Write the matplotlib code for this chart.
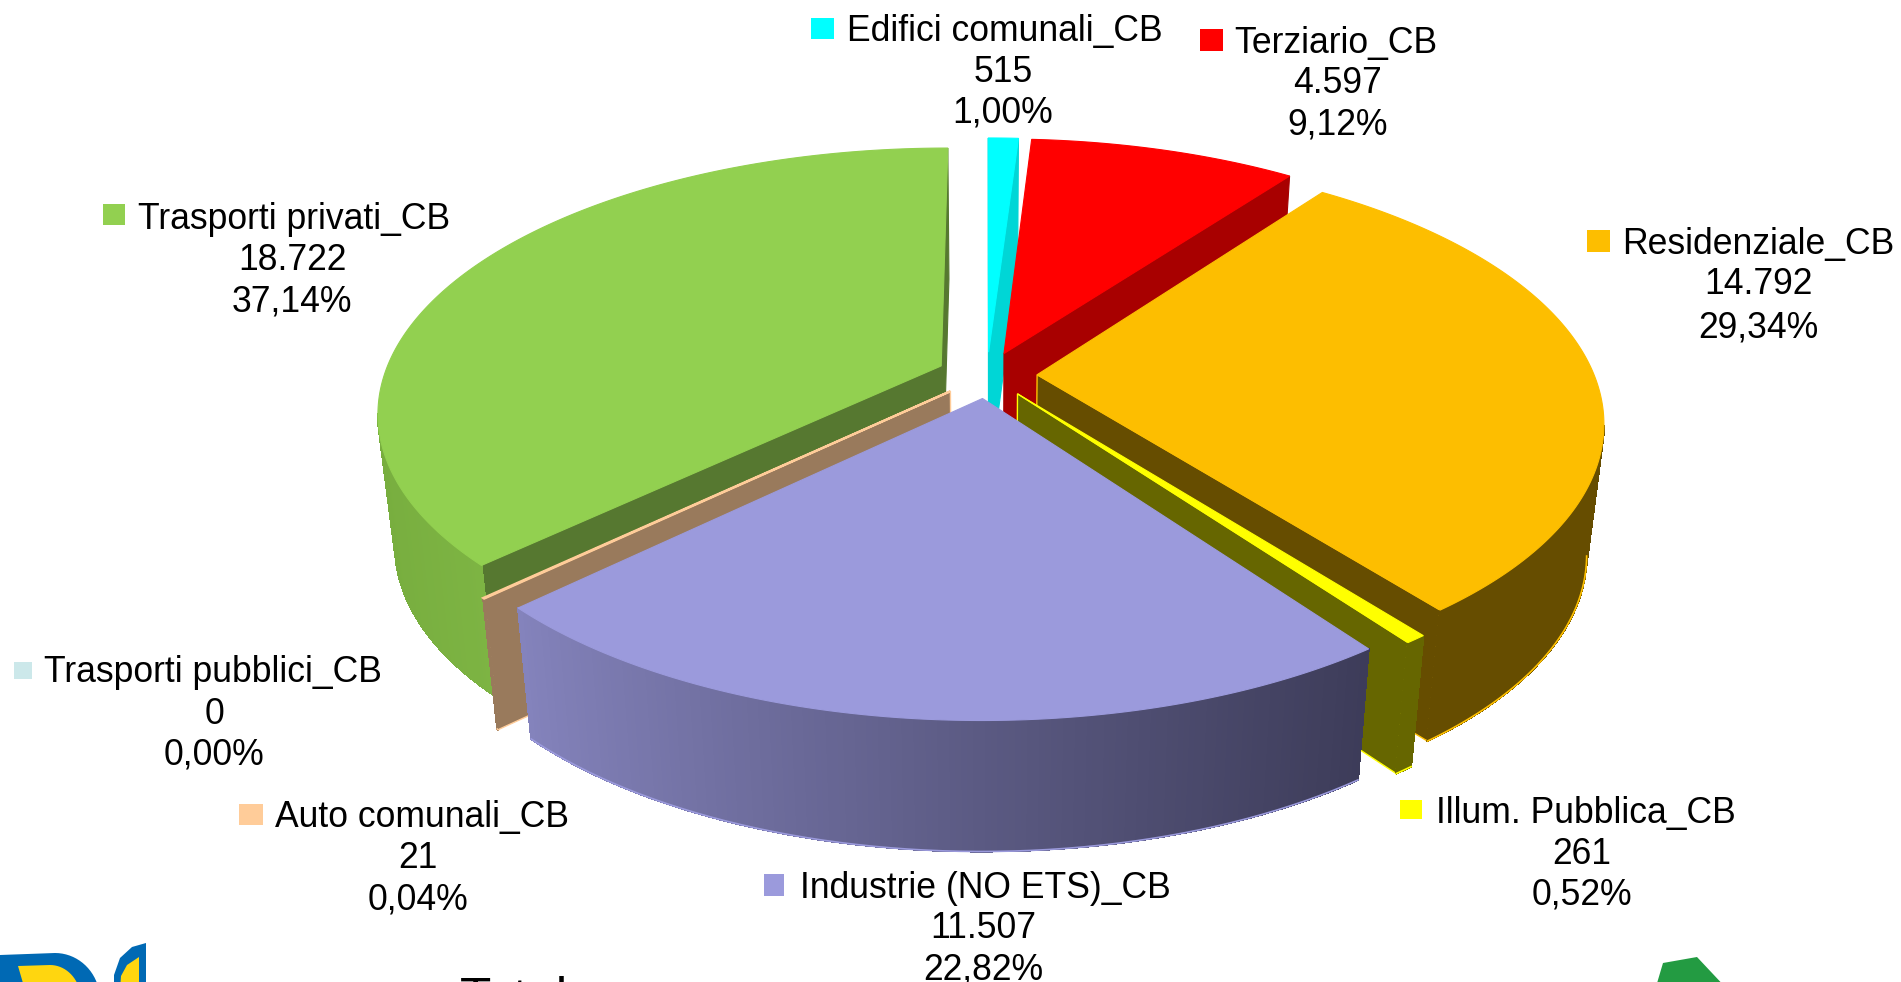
import numpy as np
import matplotlib
matplotlib.use("Agg")
import matplotlib.pyplot as plt
from matplotlib.patches import Polygon, Rectangle
from matplotlib.colors import to_rgb

plt.rcParams['font.family'] = ['Liberation Sans', 'DejaVu Sans']

# ---------- data ----------
names = ["Edifici comunali_CB", "Terziario_CB", "Residenziale_CB", "Illum. Pubblica_CB",
         "Industrie (NO ETS)_CB", "Trasporti pubblici_CB", "Auto comunali_CB", "Trasporti privati_CB"]
values = [515, 4597, 14792, 261, 11507, 0, 21, 18722]
value_labels = ["515", "4.597", "14.792", "261", "11.507", "0", "21", "18.722"]
pct_labels = ["1,00%", "9,12%", "29,34%", "0,52%", "22,82%", "0,00%", "0,04%", "37,14%"]

# ---------- styles ----------
top_colors = ["#00FFFF", "#FF0000", "#FDBE00", "#FFFF00", "#9B9ADC", "#CCE8EA", "#FFCC99", "#92D050"]
face_colors = ["#00D6D6", "#A80000", "#664D00", "#666600", "#3D3C59", "#CCE8EA", "#997A5C", "#567830"]
arc_left = ["#00D6D6", "#A80000", "#664D00", "#666600", "#8483BC", "#CCE8EA", "#997A5C", "#78AE3F"]
arc_right = ["#00D6D6", "#A80000", "#664D00", "#666600", "#3D3C59", "#CCE8EA", "#997A5C", "#7DB443"]
edge_colors = [None, None, "#FFC000", "#FFFF00", "#9B9ADC", None, "#FFCC99", None]
draw_order = [7, 0, 1, 2, 3, 6, 4]

# marker box (x0, x1, y0, y1), label left x, label centre y, value centre x, value y, pct y
layout = [
    (811, 834, 18, 39, 847, 28, 1003, 69, 110),
    (1200, 1223, 29, 51, 1234, 40, 1338, 80, 122),
    (1587, 1610, 230, 252, 1622, 241, 1758, 282, 325),
    (1400, 1422, 800, 819, 1436, 810, 1582, 851, 892),
    (764, 784, 874, 896, 800, 886, 983, 926, 967),
    (14, 32, 662, 679, 44, 670, 214, 712, 752),
    (239, 263, 804, 825, 275, 815, 418, 856, 897),
    (103, 125, 204, 225, 138, 216, 292, 257, 299),
]

# projection of the tilted disc into the picture
CX, CY, A, B, K, EXPLODE, DEPTH, SHRINK = 987, 375, 557, 258, 0.171, 0.09, 131, 0.972


def project(x, y):
    w = 1 / (1 + K * y)
    return CX + A * x * w, CY - B * y * w


def lower(p):
    return CX + (p[0] - CX) * SHRINK, p[1] + DEPTH


fig = plt.figure(figsize=(19.01, 9.82), dpi=100)
ax = fig.add_axes([0, 0, 1, 1])
ax.set_xlim(0, 1901)
ax.set_ylim(982, 0)
ax.axis("off")


def wall(a, b, color, edge=None, z=2, aa=True):
    pts = [a, b, lower(b), lower(a)]
    ax.add_patch(Polygon(pts, closed=True, facecolor=color, edgecolor=edge or color,
                         lw=1.0 if edge else 0.8, zorder=z, antialiased=aa))


total = sum(values)
cum = np.cumsum([0] + values) / total * 2 * np.pi
z = 2.0
for i in draw_order:
    t1, t2 = cum[i], cum[i + 1]
    mid = (t1 + t2) / 2
    ox, oy = EXPLODE * np.sin(mid), EXPLODE * np.cos(mid)
    ts = np.linspace(t1, t2, max(3, int(np.degrees(t2 - t1) * 2)))
    arc = [project(ox + np.sin(t), oy + np.cos(t)) for t in ts]
    apex = project(ox, oy)
    edge = edge_colors[i]
    # start radial wall (apex -> outer)
    if arc[0][0] < apex[0]:
        wall(apex, arc[0], face_colors[i], edge, z); z += .01
    # end radial wall (outer -> apex)
    if apex[0] < arc[-1][0]:
        wall(arc[-1], apex, face_colors[i], edge, z); z += .01
    # rounded outer wall, shaded across its width
    front = [(arc[j], arc[j + 1]) for j in range(len(arc) - 1) if arc[j + 1][0] < arc[j][0]]
    if front:
        xs = [s[0][0] for s in front] + [front[-1][1][0]]
        lo, hi = min(xs), max(xs)
        cl, cr = np.array(to_rgb(arc_left[i])), np.array(to_rgb(arc_right[i]))
        for a, b in front:
            f = ((a[0] + b[0]) / 2 - lo) / max(hi - lo, 1)
            wall(a, b, tuple(cl + (cr - cl) * f ** 0.9), None, z, aa=False)
        if edge:
            low = [lower(s[0]) for s in front] + [lower(front[-1][1])]
            ax.plot(*zip(*low), color=edge, lw=1.2, zorder=z + .001)
        z += .01
    # top surface
    ax.add_patch(Polygon([apex] + arc, closed=True, facecolor=top_colors[i],
                         edgecolor=top_colors[i], lw=0.8 if i != 6 else 1.6, zorder=z))
    z += .01

# ---------- labels ----------
FS = 25.6
for i, (m0, m1, y0, y1, lx, ly, vx, vy, py) in enumerate(layout):
    ax.add_patch(Rectangle((m0, y0), m1 - m0, y1 - y0, facecolor=top_colors[i], edgecolor="none", zorder=20))
    ax.text(lx, ly + 12.5, names[i], fontsize=FS, color="black", ha="left", va="baseline", zorder=21)
    ax.text(vx, vy + 12.5, value_labels[i], fontsize=FS, color="black", ha="center", va="baseline", zorder=21)
    ax.text(vx, py + 12.5, pct_labels[i], fontsize=FS, color="black", ha="center", va="baseline", zorder=21)

# ---------- cropped footer ----------
ax.text(460, 1014, "Totale", fontsize=37, color="black", ha="left", va="baseline", clip_on=True, zorder=21)

# left logo (cropped by the bottom edge)
th = np.linspace(np.pi / 2, 0, 20)
ax.add_patch(Polygon(np.c_[np.r_[0, 0, 55 + 45 * np.cos(th), 100],
                           np.r_[990, 955, 1000 - 47 * np.sin(th), 990]],
                     closed=True, facecolor="#0069B4", edgecolor="none", zorder=5))
ax.add_patch(Polygon(np.c_[np.r_[25, 18, 50 + 31 * np.cos(th), 81],
                           np.r_[990, 966, 1000 - 35 * np.sin(th), 990]],
                     closed=True, facecolor="#FFD60F", edgecolor="none", zorder=6))
ax.add_patch(Polygon([(114, 990), (114, 975), (120, 958), (132, 947), (146, 943), (146, 990)],
                     closed=True, facecolor="#0069B4", edgecolor="none", zorder=5))
ax.add_patch(Polygon([(120, 990), (121, 976), (127, 965), (139, 957), (139, 990)],
                     closed=True, facecolor="#FFD60F", edgecolor="none", zorder=6))
# right logo
ax.add_patch(Polygon([(1655, 990), (1663, 963), (1697, 957), (1728, 990)],
                     closed=True, facecolor="#239B42", edgecolor="none", zorder=5))

fig.savefig("out.png", dpi=100, facecolor="white")
